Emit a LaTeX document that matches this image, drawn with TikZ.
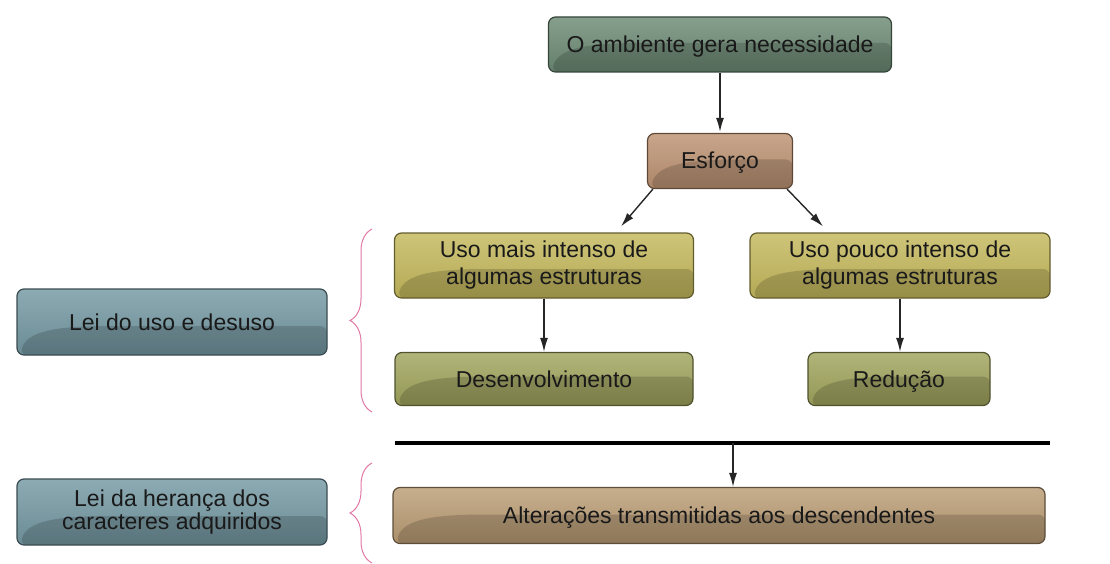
\documentclass[tikz,border=0pt]{standalone}
\usepackage{fontspec}
\setmainfont{Liberation Sans}
\usetikzlibrary{arrows.meta,decorations.pathreplacing}

\definecolor{ambcol}{RGB}{108,138,116}
\definecolor{esfcol}{RGB}{188,146,114}
\definecolor{usocol}{RGB}{196,184,92}
\definecolor{rescol}{RGB}{160,164,92}
\definecolor{altcol}{RGB}{186,156,116}
\definecolor{leicol}{RGB}{116,152,162}
\definecolor{bracecol}{RGB}{226,120,166}

\begin{document}
\begin{tikzpicture}[x=1pt,y=-1pt,
			>={Latex[length=14pt,width=8pt]},
			box/.style={
				draw=#1!50!black,
				line width=1.2pt,
				rounded corners=7pt,
				top color=#1!82!white,
				bottom color=#1!92!black,
				align=center,
				inner sep=0pt,
				text=black!90,
				font=\fontsize{23}{27}\selectfont,
				path picture={
					\fill[black,opacity=.16]
					([xshift=3pt]path picture bounding box.south west)
					.. controls ([xshift=10pt,yshift=24pt]path picture bounding box.south west)
					and ([xshift=40pt,yshift=29pt]path picture bounding box.south west) ..
					([xshift=100pt,yshift=29pt]path picture bounding box.south west)
					-- ([yshift=29pt]path picture bounding box.south east)
					-- (path picture bounding box.south east) -- cycle;
				}
			},
			oneline/.style={text height=18.5pt,text depth=2.5pt},
			link/.style={->,line width=1.4pt,black!85},
			bracket/.style={draw=bracecol,line width=1pt,
				decorate,decoration={brace,amplitude=22pt}}]
			
			\useasboundingbox (0,0) rectangle (1110,564);
			
			\node (amb)[box=ambcol,oneline,minimum width=343pt,minimum height=55pt] at (720,44.5){O ambiente gera necessidade};
			
			\node (esf)[box=esfcol,oneline,minimum width=145pt,minimum height=55pt] at (720,161){Esforço};
			
			\node (mais)[box=usocol,minimum width=299pt,minimum height=65pt] at (544,265.5){Uso mais intenso de\\algumas estruturas};
			
			\node (pouco)[box=usocol,minimum width=300pt,minimum height=65pt] at (900,265.5){Uso pouco intenso de\\algumas estruturas};
			
			\node (desen)[box=rescol,oneline,minimum width=298pt,minimum height=53pt] at (544,379){Desenvolvimento};
			
			\node (red)[box=rescol,oneline,minimum width=182pt,minimum height=53pt] at (899,379){Redução};
			
			\node (alt)[box=altcol,oneline,minimum width=652pt,minimum height=56pt] at (719,515.5){Alterações transmitidas aos descendentes};
			
			\node (leiuso)[box=leicol,oneline,minimum width=310pt,minimum height=66pt] at (172,322){Lei do uso e desuso};
			
			\node (leiher)[box=leicol,minimum width=310pt,minimum height=66pt,
				font=\fontsize{23}{21}\selectfont] at (172,512){Lei da herança dos\\caracteres adquiridos};
			
			\coordinate (sepl) at (395,443);
			\coordinate (sepr) at (1050,443);
			\coordinate (sep) at (733,443);
			
			\draw[line width=4.5pt,black](sepl)--(sepr);
			
			\coordinate (ubot) at (372,412);
			\coordinate (utop) at (372,229);
			\coordinate (lbot) at (372,563);
			\coordinate (ltop) at (372,463);
			
			\draw[bracket](ubot)--(utop);
			
			\draw[bracket](lbot)--(ltop);
			
			\draw[link,shorten >=1pt](amb)--(esf);
			
			\draw[link]([xshift=6pt]esf.south west)--([xshift=77pt,yshift=6pt]mais.north);
			
			\draw[link]([xshift=-6pt]esf.south east)--([xshift=-77pt,yshift=6pt]pouco.north);
			
			\draw[link](mais)--(desen);
			
			\draw[link](pouco.south)--(pouco.south |- red.north);
			
			\draw[link](sep)--(sep |- alt.north);
			
		\end{tikzpicture}
\end{document}
